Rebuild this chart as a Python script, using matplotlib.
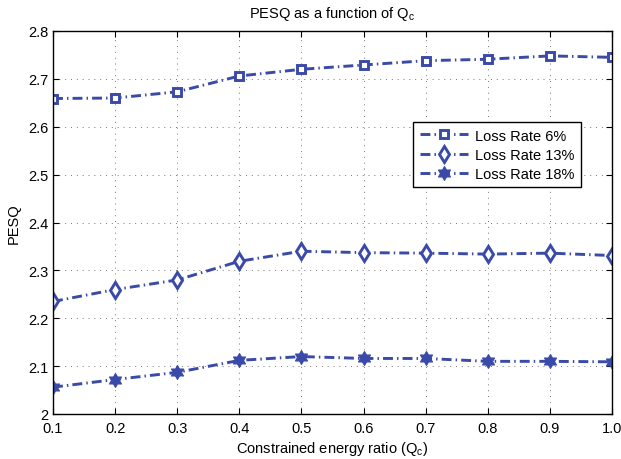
import matplotlib
matplotlib.use("Agg")
import matplotlib.pyplot as plt
from matplotlib.path import Path

plt.rcParams['font.family'] = ['Liberation Sans', 'DejaVu Sans']

qc = [0.1, 0.2, 0.3, 0.4, 0.5, 0.6, 0.7, 0.8, 0.9, 1.0]
loss_6 = [2.659, 2.660, 2.673, 2.706, 2.720, 2.729, 2.738, 2.741, 2.748, 2.745]
loss_13 = [2.235, 2.260, 2.280, 2.319, 2.340, 2.337, 2.336, 2.334, 2.336, 2.331]
loss_18 = [2.056, 2.072, 2.087, 2.112, 2.120, 2.116, 2.116, 2.110, 2.110, 2.109]
series_labels = ['Loss Rate 6%', 'Loss Rate 13%', 'Loss Rate 18%']

x_ticks = qc
x_tick_labels = ['0.1', '0.2', '0.3', '0.4', '0.5', '0.6', '0.7', '0.8', '0.9', '1.0']
y_ticks = [2.0, 2.1, 2.2, 2.3, 2.4, 2.5, 2.6, 2.7, 2.8]
y_tick_labels = ['2', '2.1', '2.2', '2.3', '2.4', '2.5', '2.6', '2.7', '2.8']

color = '#3a4aa8'
hexagram = Path.unit_regular_star(6, 0.577)
dashdot = (0, (3.4, 1.4, 0.5, 1.4))

fig = plt.figure(figsize=(6.21, 4.60), dpi=100)
ax = fig.add_axes([53 / 621, 1 - 415 / 460, (612 - 53) / 621, (415 - 32) / 460])

common = dict(color=color, linestyle=dashdot, linewidth=2.1,
              markerfacecolor='white', markeredgecolor=color)
ax.plot(qc, loss_6, marker='s', markersize=6.2, markeredgewidth=2.1,
        label=series_labels[0], **common)
ax.plot(qc, loss_13, marker='d', markersize=8.5, markeredgewidth=2.1,
        label=series_labels[1], **common)
ax.plot(qc, loss_18, marker=hexagram, markersize=10, markeredgewidth=0.8,
        label=series_labels[2], **{**common, 'markerfacecolor': color})

ax.set_xlim(0.1, 1.0)
ax.set_ylim(2.0, 2.8)
ax.set_xticks(x_ticks)
ax.set_xticklabels(x_tick_labels)
ax.set_yticks(y_ticks)
ax.set_yticklabels(y_tick_labels)
ax.tick_params(direction='in', labelsize=10.5, length=4, top=True, right=True)
ax.tick_params(axis='x', pad=5)
ax.tick_params(axis='y', pad=3)
ax.grid(True, linestyle=(0, (1, 5)), color='#777777', linewidth=0.7)
for s in ax.spines.values():
    s.set_linewidth(1.0)

ax.set_title('PESQ as a function of Q$_\\mathregular{c}$', fontsize=10.5, pad=10)
ax.set_xlabel('Constrained energy ratio (Q$_\\mathregular{c}$)', fontsize=10.5, labelpad=3)
ax.set_ylabel('PESQ', fontsize=10.5, labelpad=6)

leg = ax.legend(loc='upper left', bbox_to_anchor=((413 - 53) / 559, 1 - (123 - 32) / 383),
                fontsize=10.5, fancybox=False, framealpha=1, edgecolor='black',
                borderpad=0.45, handlelength=3.3, labelspacing=0.35, handletextpad=0.5,
                borderaxespad=0)
leg.get_frame().set_linewidth(1.0)

fig.savefig('out.png', dpi=100)
